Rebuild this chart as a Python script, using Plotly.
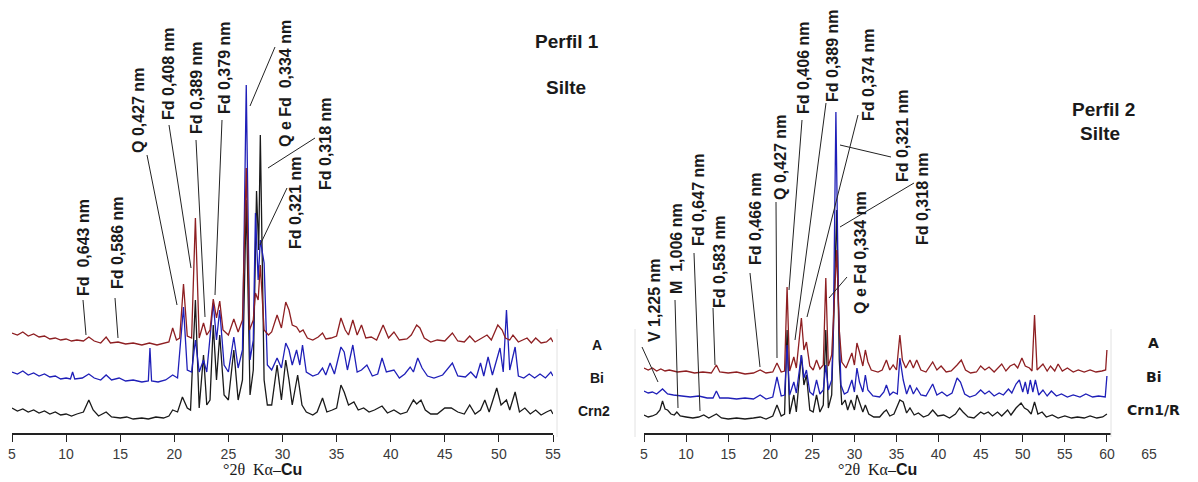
import plotly.graph_objects as go

W, H = 1198, 482
PLOT_H = 433  # height of plotting area (margin bottom = H - PLOT_H)

# ---------------- Perfil 1 (Silte) : 2theta vertices and relative intensities (a.u.)
p1_A_x = [5.0,5.5,6.0,6.5,7.0,7.5,8.0,8.5,9.0,9.5,10.0,10.5,11.0,11.6,12.1,12.6,13.2,13.7,14.1,14.8,15.5,16.2,17.0,17.7,18.4,19.0,19.5,19.85,20.2,20.5,20.85,21.2,21.6,21.95,22.3,22.7,23.0,23.3,23.6,23.9,24.2,24.5,25.0,25.5,25.9,26.3,26.65,26.95,27.3,27.5,27.75,27.95,28.3,28.7,29.0,29.5,29.9,30.3,30.6,30.9,31.3,31.6,31.9,32.3,32.8,33.3,33.7,34.0,34.5,35.0,35.4,35.8,36.1,36.5,36.9,37.3,37.7,38.2,38.7,39.3,39.8,40.3,40.8,41.5,41.9,42.4,42.7,43.1,43.7,44.3,45.0,45.7,46.2,46.8,47.3,47.8,48.3,48.9,49.3,49.9,50.3,50.6,51.0,51.3,51.8,52.6,53.0,53.4,53.9,54.4,54.8,55.0]
p1_A_y = [12,10,13,9,11,8,9,6,7,5,6,4,5,4,8,4,2,8,2,3,1,2,0,2,0,2,3,17,5,7,61,9,7,127,7,22,10,15,46,27,44,15,10,26,13,25,177,15,25,52,45,80,15,10,13,30,17,43,35,20,18,13,15,7,5,8,12,6,7,9,27,15,10,25,10,20,7,8,5,20,7,13,5,6,10,20,17,7,3,5,4,12,4,3,9,3,6,10,5,20,15,7,5,10,3,7,2,7,2,3,7,3]

p1_Bi_x = [5.0,5.5,6.0,6.5,7.0,7.5,8.0,8.5,9.0,9.5,10.0,10.4,10.6,10.8,11.5,12.1,12.6,13.2,13.7,14.2,14.9,15.5,16.2,17.0,17.6,17.75,17.9,18.5,19.2,19.85,20.3,20.85,21.2,21.6,21.95,22.3,22.7,23.0,23.6,23.9,24.2,24.6,25.0,25.5,25.9,26.3,26.65,27.0,27.3,27.5,27.75,27.95,28.3,28.6,29.0,29.5,29.9,30.3,30.6,30.9,31.3,31.6,31.85,32.2,32.8,33.3,33.7,34.0,34.4,34.8,35.4,35.7,36.0,36.5,36.9,37.3,37.8,38.3,38.8,39.2,39.6,40.3,40.8,41.3,41.8,42.1,42.5,42.9,43.4,44.0,44.8,45.7,46.2,46.9,47.4,47.9,48.3,48.6,49.0,49.4,50.1,50.4,50.7,51.0,51.5,51.8,52.3,52.8,53.3,53.8,54.3,54.8,55.0]
p1_Bi_y = [10,8,11,7,9,6,8,5,6,3,4,3,10,3,4,8,4,2,7,2,4,1,2,0,1,34,1,0,2,7,4,75,12,10,42,10,22,10,79,42,72,17,10,45,14,32,297,22,42,169,102,142,119,17,12,24,14,39,32,17,32,17,37,10,6,8,14,7,19,8,35,30,12,37,10,12,17,6,8,24,10,12,4,8,15,10,24,14,6,4,7,19,6,5,10,4,19,6,25,7,34,10,72,12,35,6,4,8,4,8,4,10,6]

p1_C_x = [5.0,5.5,6.0,6.5,7.0,7.5,8.0,8.5,9.0,9.5,10.0,10.5,11.0,11.6,12.1,12.5,13.0,13.7,14.2,15.0,15.6,16.2,17.0,17.6,18.3,19.0,19.5,19.85,20.3,20.75,21.2,21.5,21.95,22.3,22.7,23.0,23.3,23.6,23.9,24.2,24.6,25.0,25.5,25.9,26.3,26.65,27.0,27.3,27.6,27.8,27.95,28.3,28.6,29.0,29.5,29.9,30.3,30.6,30.9,31.4,31.8,32.2,32.8,33.2,33.7,34.1,34.6,35.0,35.4,35.7,36.1,36.6,37.0,37.5,38.0,38.5,39.2,39.7,40.3,40.9,41.5,42.1,42.4,42.8,43.2,43.7,44.3,45.0,45.6,46.2,46.8,47.3,47.8,48.3,48.7,49.1,49.8,50.2,50.7,51.0,51.5,51.9,52.4,52.9,53.4,53.9,54.4,54.8,55.0]
p1_C_y = [12,9,11,8,10,7,9,6,8,5,6,4,6,8,20,10,4,8,3,2,3,1,2,1,3,2,4,10,8,23,12,10,120,12,65,15,20,95,40,85,25,20,70,20,40,220,25,50,229,170,285,40,15,15,55,20,60,40,15,45,15,8,5,8,22,8,10,12,35,28,15,18,10,12,8,10,14,7,10,6,8,20,16,20,10,6,6,12,12,8,6,15,6,10,20,8,32,15,20,10,28,8,12,6,10,5,8,10,6]

# ---------------- Perfil 2 (Silte)
p2_A_x = [5.0,5.5,6.0,6.5,7.0,7.5,8.0,9.0,10.0,11.0,12.0,13.0,13.6,14.0,15.0,16.0,17.0,18.0,18.8,19.5,20.3,20.8,21.3,21.7,22.0,22.3,22.8,23.1,23.7,24.0,24.3,24.7,25.1,25.5,25.9,26.3,26.6,26.9,27.3,27.6,27.9,28.2,28.5,29.0,29.7,30.0,30.3,30.6,31.0,31.3,31.6,32.0,32.8,33.3,33.8,34.2,34.6,35.0,35.4,35.7,36.1,36.6,37.0,37.4,37.9,38.5,39.3,39.8,40.3,40.9,41.5,42.2,42.7,43.2,43.8,44.5,45.0,45.5,46.0,46.6,47.5,48.0,48.5,49.0,49.4,49.9,50.3,50.8,51.1,51.4,51.7,52.4,52.9,53.3,53.8,54.2,54.7,55.3,56.0,56.6,57.3,58.0,58.7,59.4,59.85,60.0]
p2_A_y = [5,3,5,2,4,2,3,1,2,0,1,0,8,1,0,1,-1,0,3,0,1,10,1,2,86,2,16,5,55,23,31,7,3,13,4,8,95,7,18,73,123,43,11,5,20,8,30,21,7,23,11,3,1,3,13,3,8,3,38,13,5,13,5,13,3,1,11,3,7,1,2,8,13,3,0,1,7,3,6,1,9,2,7,9,5,15,7,5,2,58,3,9,2,7,2,9,2,5,1,3,1,3,1,2,3,23]

p2_Bi_x = [5.0,5.5,6.0,6.5,7.2,7.8,8.5,9.5,10.5,11.5,12.5,13.2,13.6,14.0,15.0,16.0,17.0,18.0,18.8,19.5,20.3,20.8,21.3,21.7,22.0,22.3,22.8,23.1,23.7,24.0,24.3,24.7,25.1,25.5,25.9,26.3,26.6,26.9,27.3,27.5,27.8,28.1,28.4,28.8,29.2,29.7,30.0,30.3,30.6,31.0,31.3,31.6,32.2,33.0,33.5,33.8,34.2,34.6,35.1,35.4,35.8,36.2,36.6,37.0,37.4,37.9,38.5,39.3,39.8,40.4,41.0,41.6,42.2,42.6,43.1,43.7,44.4,45.0,45.5,46.0,46.6,47.2,47.7,48.3,48.7,49.2,49.6,50.0,50.3,50.6,50.9,51.2,51.5,51.9,52.4,52.9,53.4,54.0,54.6,55.3,56.0,56.8,57.5,58.3,59.0,59.8,60.0]
p2_Bi_y = [8,6,7,5,10,5,4,3,2,3,1,1,8,1,1,0,1,0,4,0,2,22,3,4,54,4,17,6,44,21,29,7,4,19,5,9,34,9,19,69,287,99,14,5,7,19,7,31,17,7,24,9,3,2,7,14,4,7,5,41,19,5,14,5,11,4,3,15,4,7,3,6,21,17,5,2,4,9,5,8,3,6,4,10,6,15,19,7,17,5,19,7,19,4,9,3,8,3,5,2,4,2,5,2,3,2,23]

p2_C_x = [5.0,5.5,6.0,6.5,6.9,7.2,7.5,7.8,8.2,8.6,8.9,9.3,10.0,10.8,11.5,12.1,12.7,13.6,14.2,15.0,16.0,17.0,18.0,18.8,19.5,20.3,20.8,21.3,21.7,22.0,22.3,22.8,23.1,23.7,24.0,24.3,24.7,25.1,25.5,25.9,26.3,26.6,26.9,27.3,27.6,27.9,28.2,28.5,28.9,29.2,29.6,30.0,30.3,30.6,31.0,31.3,31.7,32.3,33.0,33.5,33.8,34.2,34.7,35.4,35.8,36.2,36.6,37.1,37.6,38.2,38.8,39.3,39.9,40.6,41.3,42.0,42.5,42.9,43.5,44.2,45.0,45.4,45.9,46.4,47.0,47.5,48.2,48.6,49.2,49.8,50.2,50.6,51.0,51.4,51.8,52.3,52.8,53.5,54.2,55.0,55.8,56.5,57.3,58.0,58.8,59.5,60.0]
p2_C_y = [5,3,4,6,10,19,11,10,6,5,8,4,3,2,3,5,2,6,2,1,2,1,2,3,1,4,15,4,6,90,6,25,8,65,35,45,10,8,25,8,15,90,12,25,120,210,60,15,20,10,20,10,25,18,8,15,6,3,3,8,10,4,6,20,18,7,12,5,7,3,5,10,4,5,2,6,12,8,3,2,8,6,8,4,8,4,10,5,12,17,12,10,6,18,6,8,3,5,2,4,2,3,2,4,2,3,6]

ticks1 = [5, 10, 15, 20, 25, 30, 35, 40, 45, 50, 55]
ticks2 = [5, 10, 15, 20, 25, 30, 35, 40, 45, 50, 55, 60, 65]

# label texts
labels_p1 = ["Fd  0,643 nm", "Fd 0,586 nm", "Q 0,427 nm", "Fd 0,408 nm", "Fd 0,389 nm",
             "Fd 0,379 nm", "Q e Fd  0,334 nm", "Fd 0,318 nm", "Fd 0,321 nm"]
labels_p2 = ["V 1,225 nm", "M  1,006 nm", "Fd 0,647 nm", "Fd 0,583 nm", "Fd 0,466 nm",
             "Q 0,427 nm", "Fd 0,406 nm", "Fd 0,389 nm", "Fd 0,374 nm", "Fd 0,321 nm",
             "Fd 0,318 nm", "Q e Fd 0,334 nm"]
series1 = ["A", "Bi", "Crn2"]
series2 = ["A", "Bi", "Crn1/R"]

RED, BLUE, BLACK = "#8e1f22", "#1f1fb8", "#1a1a1a"

fig = go.Figure()

def add(xs, ys, off, color, xa, ya):
    fig.add_trace(go.Scatter(x=xs, y=[v + off for v in ys], xaxis=xa, yaxis=ya,
                             mode="lines", line=dict(color=color, width=1.3),
                             hoverinfo="skip", showlegend=False))

# stacking offsets (display)
add(p1_C_x, p1_C_y, 13, BLACK, "x", "y")
add(p1_Bi_x, p1_Bi_y, 51, BLUE, "x", "y")
add(p1_A_x, p1_A_y, 88, RED, "x", "y")
add(p2_C_x, p2_C_y, 13, BLACK, "x2", "y2")
add(p2_Bi_x, p2_Bi_y, 34, BLUE, "x2", "y2")
add(p2_A_x, p2_A_y, 60, RED, "x2", "y2")

axis_common = dict(showgrid=False, zeroline=False, showline=True, linecolor="#222",
                   linewidth=1.5, ticks="outside", ticklen=7, tickwidth=1.3, tickcolor="#222",
                   tickfont=dict(family="Liberation Sans, Arial", size=14, color="#3a3a3a"),
                   tickmode="array", automargin=False)

fig.update_layout(
    width=W, height=H, margin=dict(l=0, r=0, t=0, b=H - PLOT_H, pad=0),
    paper_bgcolor="white", plot_bgcolor="white",
    xaxis=dict(domain=[12 / W, 553 / W], range=[5, 55], tickvals=ticks1, anchor="y", **axis_common),
    yaxis=dict(domain=[0, 1], range=[0, PLOT_H], visible=False),
    xaxis2=dict(domain=[644 / W, 1149 / W], range=[5, 65], tickvals=ticks2, anchor="y2", **axis_common),
    yaxis2=dict(domain=[0, 1], range=[0, PLOT_H], visible=False, anchor="x2"),
)

def P(x, y):
    # pixel position in the picture -> paper coordinates of the plotting area
    return x / W, (PLOT_H - y) / PLOT_H

annotations = []
shapes = []

def rot_label(text, cx, cy):
    x, y = P(cx, cy)
    annotations.append(dict(text="<b>%s</b>" % text, x=x, y=y, xref="paper", yref="paper",
                            textangle=-90, showarrow=False, xanchor="center", yanchor="middle",
                            font=dict(family="Liberation Sans, Arial", size=16, color="#1a1a1a")))

def leader(x0, y0, x1, y1):
    a, b = P(x0, y0)
    c, d = P(x1, y1)
    shapes.append(dict(type="line", xref="paper", yref="paper", x0=a, y0=b, x1=c, y1=d,
                       line=dict(color="#222", width=1)))

# Perfil 1 labels
pos1 = [(84, 248), (117, 243), (138, 111), (168, 74), (196, 88), (224, 68), (285, 84), (325, 144), (295, 203)]
lines1 = [(83, 300, 86, 335), (115, 298, 118, 338), (147, 155, 177, 305), (169, 125, 191, 268),
          (196, 140, 205, 317), (222, 120, 215, 295), (275, 47, 250, 106), (315, 138, 268, 168),
          (287, 188, 260, 245)]
for t, (cx, cy), ln in zip(labels_p1, pos1, lines1):
    rot_label(t, cx, cy)
    leader(*ln)

# Perfil 2 labels
pos2 = [(654, 300), (676, 249), (698, 200), (719, 262), (755, 219), (780, 157), (803, 68),
        (833, 56), (868, 75), (902, 136), (923, 199), (860, 253)]
lines2 = [(642, 347, 658, 382), (675, 300, 678, 408), (694, 253, 700, 411), (713, 308, 715, 365),
          (750, 273, 760, 367), (776, 202, 777, 358), (802, 120, 789, 290), (826, 103, 795, 340),
          (858, 115, 807, 317), (840, 145, 891, 157), (914, 183, 840, 227), (847, 277, 829, 298)]
for t, (cx, cy), ln in zip(labels_p2, pos2, lines2):
    rot_label(t, cx, cy)
    leader(*ln)

def text(t, cx, cy, size, family="Liberation Sans, Arial"):
    x, y = P(cx, cy)
    annotations.append(dict(text=t, x=x, y=y, xref="paper", yref="paper", showarrow=False,
                            xanchor="center", yanchor="middle",
                            font=dict(family=family, size=size, color="#1a1a1a")))

text("<b>Perfil 1</b>", 567, 41, 19)
text("<b>Silte</b>", 566, 87, 19)
text("<b>Perfil 2</b>", 1103, 110, 19)
text("<b>Silte</b>", 1100, 133, 19)

# box behind series names of Perfil 2 (covers axis beyond 60)
x0, y0 = P(1111, 328)
x1, y1 = P(1198, 443)
shapes.append(dict(type="rect", xref="paper", yref="paper", x0=x0, y0=y0, x1=x1, y1=y1,
                   fillcolor="white", line=dict(width=0), layer="above"))
for xe in (557, 635, 1111):
    a, b = P(xe, 329)
    c, d = P(xe, 437)
    shapes.append(dict(type="line", xref="paper", yref="paper", x0=a, y0=b, x1=c, y1=d,
                       line=dict(color="#e2e2e2", width=1), layer="above"))

for t, cy in zip(series1, (345, 378, 411)):
    text("<b>%s</b>" % t, 597 if t != "Crn2" else 594, cy, 14)
for t, cy in zip(series2, (343, 377, 410)):
    text("<b>%s</b>" % t, 1153, cy, 14, family="DejaVu Sans, Verdana")

axis_title = ("<span style='font-family:Liberation Serif, Times New Roman'>°2θ&nbsp; Kα–</span>"
              "<b>Cu</b>")
text(axis_title, 262, 469, 16)
text(axis_title, 877, 469, 16)

fig.update_layout(annotations=annotations, shapes=shapes)
fig.write_html("out.html", config={"displayModeBar": False},
               post_script="document.body.style.margin='0px';")
